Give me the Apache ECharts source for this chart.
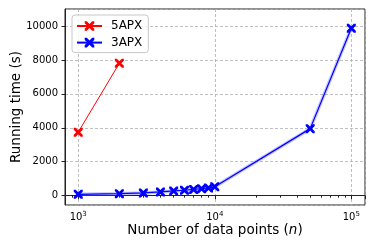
<!DOCTYPE html>
<html>
<head>
<meta charset="utf-8">
<script src="https://cdn.jsdelivr.net/npm/echarts@6/dist/echarts.min.js"></script>
<style>
html,body{margin:0;padding:0;background:#fff;}
#c{width:374px;height:249px;}
</style>
</head>
<body>
<div id="c"></div>
<script>
// Data
const nPoints5 = [1000, 2000];
const time5 = [3740, 7800];
const nPoints3 = [1000, 2000, 3000, 4000, 5000, 6000, 7000, 8000, 9000, 10000, 50000, 100000];
const time3 = [80, 120, 160, 220, 280, 320, 365, 410, 455, 520, 3950, 9870];
const seriesNames = ['5APX', '3APX'];

const FONT = 'DejaVu Sans';
const X_PATH = 'path://M0,0 L2.2,0 L5,2.8 L7.8,0 L10,0 L10,2.2 L7.2,5 L10,7.8 L10,10 L7.8,10 L5,7.2 L2.2,10 L0,10 L0,7.8 L2.8,5 L0,2.2 Z';

function pairs(xs, ys) { return xs.map((x, i) => [x, ys[i]]); }

const chart = echarts.init(document.getElementById('c'), null, {renderer: 'canvas'});
chart.setOption({
  animation: false,
  backgroundColor: '#fff',
  textStyle: {fontFamily: FONT},
  grid: {left: 65, right: 9, top: 9, bottom: 44, containLabel: false, outerBoundsMode: 'none',
    show: true, borderColor: '#222', borderWidth: 1, backgroundColor: 'transparent'},
  legend: {
    orient: 'vertical',
    left: 72, top: 15,
    data: seriesNames,
    itemWidth: 25, itemHeight: 12, itemGap: 4.6,
    padding: [5, 6, 4, 4],
    borderColor: '#c8c8c8', borderWidth: 1, borderRadius: 3,
    backgroundColor: 'rgba(255,255,255,0.8)',
    formatter: function (name) { return '{t|' + name + '}'; },
    textStyle: {fontFamily: FONT, fontSize: 12, color: '#000',
      rich: {t: {fontFamily: FONT, fontSize: 12, color: '#000', padding: [0, 0, 0, 4]}}}
  },
  xAxis: {
    type: 'log', logBase: 10, min: 800, max: 126000,
    name: 'Number of data points ({it|n})',
    nameLocation: 'middle', nameGap: 18, nameMoveOverlap: false,
    nameTextStyle: {fontFamily: FONT, fontSize: 13.5, color: '#000',
      rich: {it: {fontFamily: FONT, fontSize: 13.5, fontStyle: 'italic', color: '#000'}}},
    axisLine: {show: true, lineStyle: {color: '#222', width: 1}},
    axisTick: {show: true, length: 3.5, inside: false, lineStyle: {color: '#222'}},
    minorTick: {show: true, splitNumber: 9, length: 2, lineStyle: {color: '#222'}},
    splitLine: {show: true, lineStyle: {color: '#b0b0b0', type: [3, 2], width: 0.8}},
    axisLabel: {
      margin: 6, color: '#000', fontFamily: FONT, fontSize: 10,
      formatter: function (v) {
        const e = Math.log10(v);
        if (Math.abs(e - Math.round(e)) < 1e-6) return '10{sup|' + Math.round(e) + '}';
        return '';
      },
      rich: {sup: {fontSize: 7, fontFamily: FONT, color: '#000', verticalAlign: 'bottom', padding: [0, 0, 6, 0]}}
    }
  },
  yAxis: {
    type: 'value', min: -550, max: 11000,
    name: 'Running time (s)',
    nameLocation: 'middle', nameGap: 42, nameMoveOverlap: false,
    nameTextStyle: {fontFamily: FONT, fontSize: 13.5, color: '#000'},
    axisLine: {show: true, lineStyle: {color: '#222', width: 1}},
    axisTick: {show: true, length: 3.5, lineStyle: {color: '#222'}},
    splitLine: {show: true, lineStyle: {color: '#b0b0b0', type: [3, 2], width: 0.8}},
    axisLabel: {margin: 7, color: '#000', fontFamily: FONT, fontSize: 10, showMinLabel: false, showMaxLabel: false,
      formatter: function (v) { return String(Math.round(v)); }}
  },
  series: [
    {
      name: '3APX band', type: 'line', data: pairs(nPoints3, time3),
      symbol: 'none', silent: true, z: 1,
      lineStyle: {color: 'rgba(80,80,255,0.35)', width: 3.5}
    },
    {
      name: seriesNames[0], type: 'line', data: pairs(nPoints5, time5),
      symbol: X_PATH, symbolSize: 9, z: 3,
      itemStyle: {color: '#ff0000'},
      lineStyle: {color: '#ff0000', width: 1}
    },
    {
      name: seriesNames[1], type: 'line', data: pairs(nPoints3, time3),
      symbol: X_PATH, symbolSize: 9, z: 2,
      itemStyle: {color: '#0000ff'},
      lineStyle: {color: '#0000ff', width: 1.2}
    }
  ]
});
</script>
</body>
</html>
